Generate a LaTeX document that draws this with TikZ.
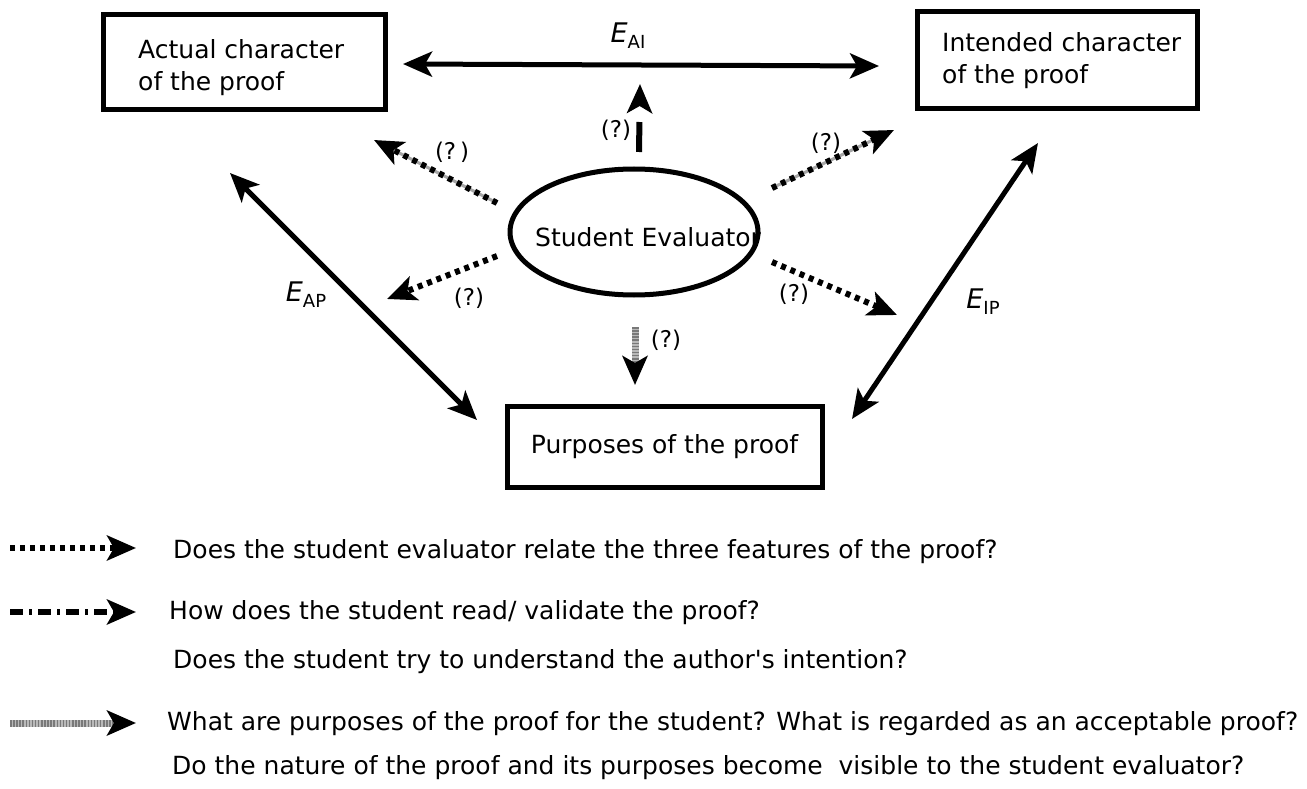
\documentclass[tikz,border=0pt]{standalone}
\usepackage{fontspec}
\setmainfont{DejaVu Sans}
\usetikzlibrary{arrows.meta,shapes.geometric}
\begin{document}
\begin{tikzpicture}[x=1pt,y=-1pt,
  font=\fontsize{25}{32}\selectfont,
  >={Stealth[length=29pt,width=25pt,inset=7pt]},
  box/.style={draw,line width=5pt,inner sep=0pt},
  boxtext/.style={anchor=west,align=left,inner sep=0pt},
  mainarrow/.style={<->,line width=5pt},
  dotarrow/.style={->,line width=6pt,dash pattern=on 5pt off 5pt},
  mixunder/.style={gray!70,line width=3pt,shorten >=22pt},
  dasharrow/.style={->,line width=6pt,dash pattern=on 13pt off 6pt on 3pt off 6pt},
  grayunder/.style={gray!55,line width=7pt,shorten >=22pt},
  grayarrow/.style={-{Stealth[length=29pt,width=25pt,inset=7pt,color=black]},draw=gray!95!black,line width=7pt,dash pattern=on 1.5pt off 1.6pt},
  q/.style={font=\fontsize{23}{26}\selectfont},
  elab/.style={font=\fontsize{27}{30}\selectfont},
  txt/.style={anchor=west,inner sep=0pt}
]
\useasboundingbox (0,0) rectangle (1307,789);

% boxes
\node[box,minimum width=282pt,minimum height=95pt] (act) at (244,62.5) {};
\node[boxtext] (actt) at (138,68) {Actual character\\of the proof};
\node[box,minimum width=280pt,minimum height=97pt] (int) at (1057,60.5) {};
\node[boxtext] (intt) at (942,61) {Intended character\\of the proof};
\node[box,minimum width=315pt,minimum height=81pt] (pur) at (664.5,446.5) {Purposes of the proof};

% ellipse
\node[txt] (stu) at (535,237) {Student Evaluator};
\node[draw,line width=5pt,ellipse,minimum width=248pt,minimum height=126pt,inner sep=0pt] (ell) at (634,232) {};

% coordinates
\coordinate (aiL) at (403,64);
\coordinate (aiR) at (879,66);
\coordinate (apA) at (230,173);
\coordinate (apB) at (477,420);
\coordinate (ipA) at (1038,143);
\coordinate (ipB) at (852,419);
\coordinate (upS) at (639,152);
\coordinate (upE) at (640,84);
\coordinate (ulS) at (497,203);
\coordinate (ulE) at (374,140);
\coordinate (urS) at (772,188);
\coordinate (urE) at (894,130);
\coordinate (llS) at (497,256);
\coordinate (llE) at (387,299);
\coordinate (lrS) at (772,262);
\coordinate (lrE) at (897,315);
\coordinate (dnS) at (635,327);
\coordinate (dnE) at (635,385);

% main double arrows
\draw[mainarrow] (aiL) -- (aiR);
\draw[mainarrow] (apA) -- (apB);
\draw[mainarrow] (ipA) -- (ipB);

\node[elab] (eai) at (628,36) {\itshape E\upshape\raisebox{-6pt}{\fontsize{18}{20}\selectfont AI}};
\node[elab] (eap) at (306,295) {\itshape E\upshape\raisebox{-6pt}{\fontsize{18}{20}\selectfont AP}};
\node[elab] (eip) at (983,302) {\itshape E\upshape\raisebox{-6pt}{\fontsize{18}{20}\selectfont IP}};

% student arrows
\draw[line width=6pt,->,dash pattern=on 30pt off 40pt] (upS) -- (upE);
\node[q] (q1) at (616,130) {(?)};

\draw[mixunder] (ulS) -- (ulE);
\draw[dotarrow] (ulS) -- (ulE);
\node[q] (q2) at (452,152) {(?\,)};

\draw[mixunder] (urS) -- (urE);
\draw[dotarrow] (urS) -- (urE);
\node[q] (q3) at (826,143) {(?)};

\draw[dotarrow] (llS) -- (llE);
\node[q] (q4) at (469,298) {(?)};

\draw[dotarrow] (lrS) -- (lrE);
\node[q] (q5) at (794,294) {(?)};

\draw[grayunder] (dnS) -- (dnE);
\draw[grayarrow] (dnS) -- (dnE);
\node[q] (q6) at (666,340) {(?)};

% legend
\coordinate (l1a) at (10,548); \coordinate (l1b) at (136,548);
\coordinate (l2a) at (10,612); \coordinate (l2b) at (136,612);
\coordinate (l3a) at (10,723); \coordinate (l3b) at (136,723);
\draw[dotarrow] (l1a) -- (l1b);
\draw[dasharrow] (l2a) -- (l2b);
\draw[grayunder] (l3a) -- (l3b);
\draw[grayarrow] (l3a) -- (l3b);

\node[txt] (t1) at (173,552) {Does the student evaluator relate the three features of the proof?};
\node[txt] (t2) at (169,613) {How does the student read/ validate the proof?};
\node[txt] (t3) at (173,662) {Does the student try to understand the author\textquotesingle s intention?};
\node[txt] (t4) at (167,724) {What are purposes of the proof for the student? What is regarded as an acceptable proof?};
\node[txt] (t5) at (172,768) {Do the nature of the proof and its purposes become \ visible to the student evaluator?};
\end{tikzpicture}
\end{document}
